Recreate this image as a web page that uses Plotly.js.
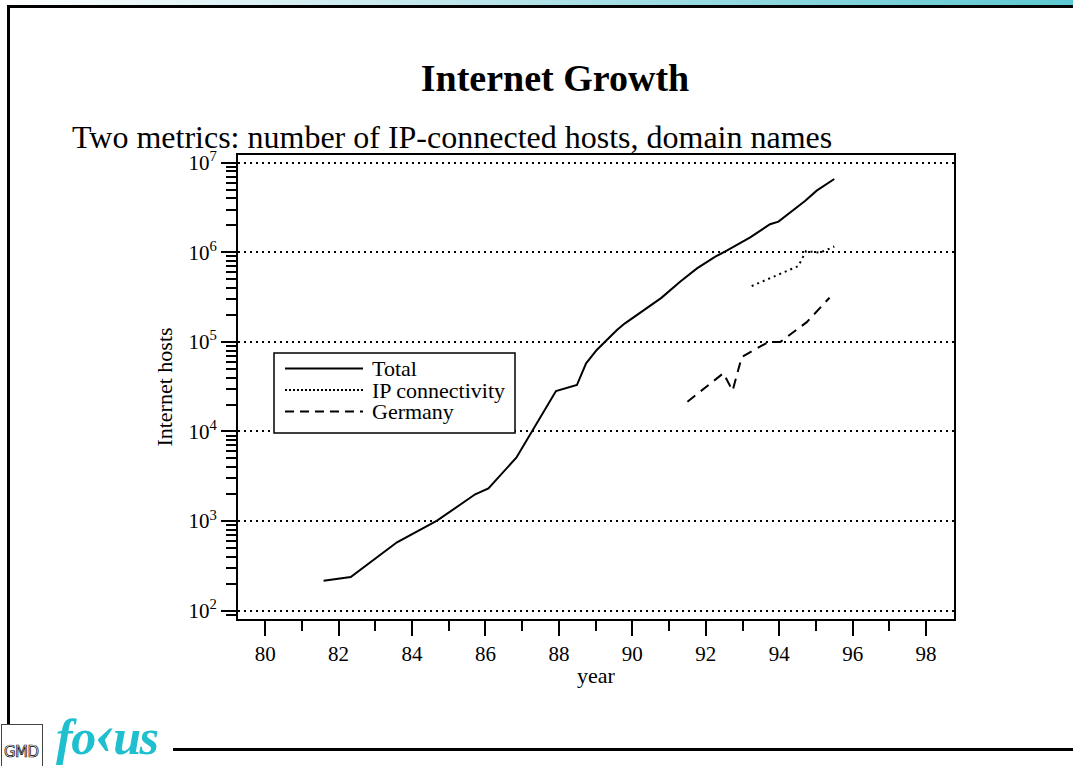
<!DOCTYPE html>
<html>
<head>
<meta charset="utf-8">
<script src="https://cdn.plot.ly/plotly-3.0.1.min.js"></script>
<style>
  html, body { margin: 0; padding: 0; background: #ffffff; }
  #page { position: relative; width: 1073px; height: 766px; overflow: hidden; background: #ffffff; }
  #chart { position: absolute; left: 0; top: 0; width: 1073px; height: 766px; }
  .deco { position: absolute; }
  #band { left: 0; top: 0; width: 1073px; height: 5px;
          background: linear-gradient(to right, #ffffff 0%, #b9e4ea 45%, #5ec8d2 100%); }
  #topRule { left: 7px; top: 5px; width: 1066px; height: 3px; background: #000; }
  #leftRule { left: 7px; top: 5px; width: 3px; height: 719px; background: #000; }
  #bottomRule { left: 173px; top: 748px; width: 900px; height: 3px; background: #000; }
  #gmd { left: 1px; top: 724px; width: 40px; height: 50px; border: 1px solid #444; background: #fff; }
  #gmd span { position: absolute; left: 2px; top: 18px; font: 15px "DejaVu Sans", sans-serif;
              color: #fff; -webkit-text-stroke: 0.7px #000; letter-spacing: -0.5px; }
  #logo { left: 56px; top: 708px; font: italic bold 50px "Liberation Serif", serif; color: #1fbfcf;
          letter-spacing: -1.5px; white-space: nowrap; }
  #logo .k { font-size: 1.2em; line-height: 0; position: relative; top: -0.02em; }
</style>
</head>
<body>
<div id="page">
  <div class="deco" id="band"></div>
  <div class="deco" id="topRule"></div>
  <div class="deco" id="leftRule"></div>
  <div class="deco" id="bottomRule"></div>
  <div class="deco" id="gmd"><span>GMD</span></div>
  <div class="deco" id="logo">fo<span class="k">‹</span>us</div>
  <div id="chart"></div>
</div>
<script>
// Internet host counts, year given as decimal (e.g. 91.5 = mid-1991)
const totalYears = [81.59, 82.33, 83.59, 84.68, 85.72, 86.08, 86.84, 87.92, 88.49, 88.74,
                    89.03, 89.58, 89.79, 90.79, 91.30, 91.76, 92.26, 92.57, 93.21, 93.53,
                    93.75, 93.98, 94.39, 94.71, 95.02, 95.50];
const totalHosts = [216, 238, 580, 1010, 1990, 2320, 5100, 28300, 33000, 57700,
                    81300, 136000, 160000, 310000, 470000, 662000, 893000, 1042000, 1469000, 1774000,
                    2056000, 2198000, 2972000, 3767000, 4875000, 6577000];

const ipYears = [93.25, 94.52, 94.73, 95.11, 95.50];
const ipHosts = [420000, 702000, 1030000, 990000, 1160000];

const deYears = [91.50, 92.48, 92.73, 92.98, 93.71, 94.03, 94.75, 95.37];
const deHosts = [21500, 44700, 28500, 68000, 100000, 100000, 166000, 311000];

const seriesNames = ['Total', 'IP connectivity', 'Germany'];

const yearTicks = [80, 82, 84, 86, 88, 90, 92, 94, 96, 98];
const hostTicks = [1e2, 1e3, 1e4, 1e5, 1e6, 1e7];
const hostTickText = ['10<sup>2</sup>', '10<sup>3</sup>', '10<sup>4</sup>', '10<sup>5</sup>', '10<sup>6</sup>', '10<sup>7</sup>'];

const serif = 'Liberation Serif, Times New Roman, serif';

const lineStyles = [
  { color: '#000', width: 2, dash: 'solid' },
  { color: '#000', width: 2, dash: '2px,4px' },
  { color: '#000', width: 2, dash: '10px,7px' }
];
const legendDash = ['solid', '2px,2px', '9px,6px'];

const traces = [
  { x: totalYears, y: totalHosts, name: seriesNames[0], type: 'scatter', mode: 'lines', line: lineStyles[0] },
  { x: ipYears, y: ipHosts, name: seriesNames[1], type: 'scatter', mode: 'lines', line: lineStyles[1] },
  { x: deYears, y: deHosts, name: seriesNames[2], type: 'scatter', mode: 'lines', line: lineStyles[2] }
];

// plot area in pixels, used to place the boxed key in paper coordinates
const M = { l: 238, r: 119, t: 155, b: 147 };
const PW = 1073 - M.l - M.r, PH = 766 - M.t - M.b;
const px = v => (v - M.l) / PW;
const py = v => (766 - M.b - v) / PH;

const shapes = [{
  type: 'rect', xref: 'paper', yref: 'paper', layer: 'above',
  x0: px(274), x1: px(515), y0: py(433), y1: py(353),
  line: { color: '#000', width: 1.5 }, fillcolor: '#ffffff'
}];
const annotations = [{
  text: 'Two metrics: number of IP-connected hosts, domain names',
  xref: 'paper', yref: 'paper', x: px(70), y: py(137),
  xanchor: 'left', yanchor: 'middle', showarrow: false,
  font: { family: serif, size: 32, color: '#000' }
}];
const keyRows = [368.5, 390, 411.5];
traces.forEach(function (t, i) {
  shapes.push({
    type: 'line', xref: 'paper', yref: 'paper', layer: 'above',
    x0: px(285), x1: px(363), y0: py(keyRows[i]), y1: py(keyRows[i]),
    line: { color: t.line.color, width: 1.8, dash: legendDash[i] }
  });
  annotations.push({
    text: t.name, xref: 'paper', yref: 'paper', x: px(370), y: py(keyRows[i]),
    xanchor: 'left', yanchor: 'middle', showarrow: false,
    font: { family: serif, size: 22, color: '#000' }
  });
});

const layout = {
  width: 1073, height: 766,
  margin: { l: M.l, r: M.r, t: M.t, b: M.b, pad: 0 },
  paper_bgcolor: 'rgba(0,0,0,0)',
  plot_bgcolor: '#ffffff',
  font: { family: serif, size: 22, color: '#000' },
  showlegend: false,
  title: {
    text: '<b>Internet Growth</b>',
    font: { family: serif, size: 38, color: '#000' },
    xref: 'container', yref: 'container',
    x: 555 / 1073, y: 1 - 78 / 766, xanchor: 'center', yanchor: 'middle'
  },
  shapes: shapes,
  annotations: annotations,
  xaxis: {
    range: [79.26, 98.76],
    tickmode: 'array', tickvals: yearTicks, ticktext: yearTicks.map(String),
    ticks: 'outside', ticklen: 15, tickwidth: 2, tickcolor: '#000',
    minor: { ticks: 'outside', ticklen: 10, tickwidth: 2, tickcolor: '#000', tick0: 81, dtick: 2 },
    showline: true, linecolor: '#000', linewidth: 2, mirror: true,
    showgrid: false, zeroline: false,
    tickfont: { family: serif, size: 21, color: '#000' },
    title: { text: 'year', font: { family: serif, size: 22, color: '#000' }, standoff: 2 }
  },
  yaxis: {
    type: 'log', range: [1.907, 7.086],
    tickmode: 'array', tickvals: hostTicks, ticktext: hostTickText,
    ticks: 'outside', ticklen: 15, tickwidth: 2, tickcolor: '#000',
    minor: { ticks: 'outside', ticklen: 10, tickwidth: 2, tickcolor: '#000', dtick: 'D1', showgrid: false },
    showline: true, linecolor: '#000', linewidth: 2, mirror: true,
    showgrid: true, gridcolor: '#000', gridwidth: 2, griddash: '2px,4px',
    zeroline: false,
    tickfont: { family: serif, size: 21, color: '#000' },
    title: { text: 'Internet hosts', font: { family: serif, size: 22, color: '#000' }, standoff: 10 }
  }
};

Plotly.newPlot('chart', traces, layout, { staticPlot: true, displayModeBar: false });
</script>
</body>
</html>
